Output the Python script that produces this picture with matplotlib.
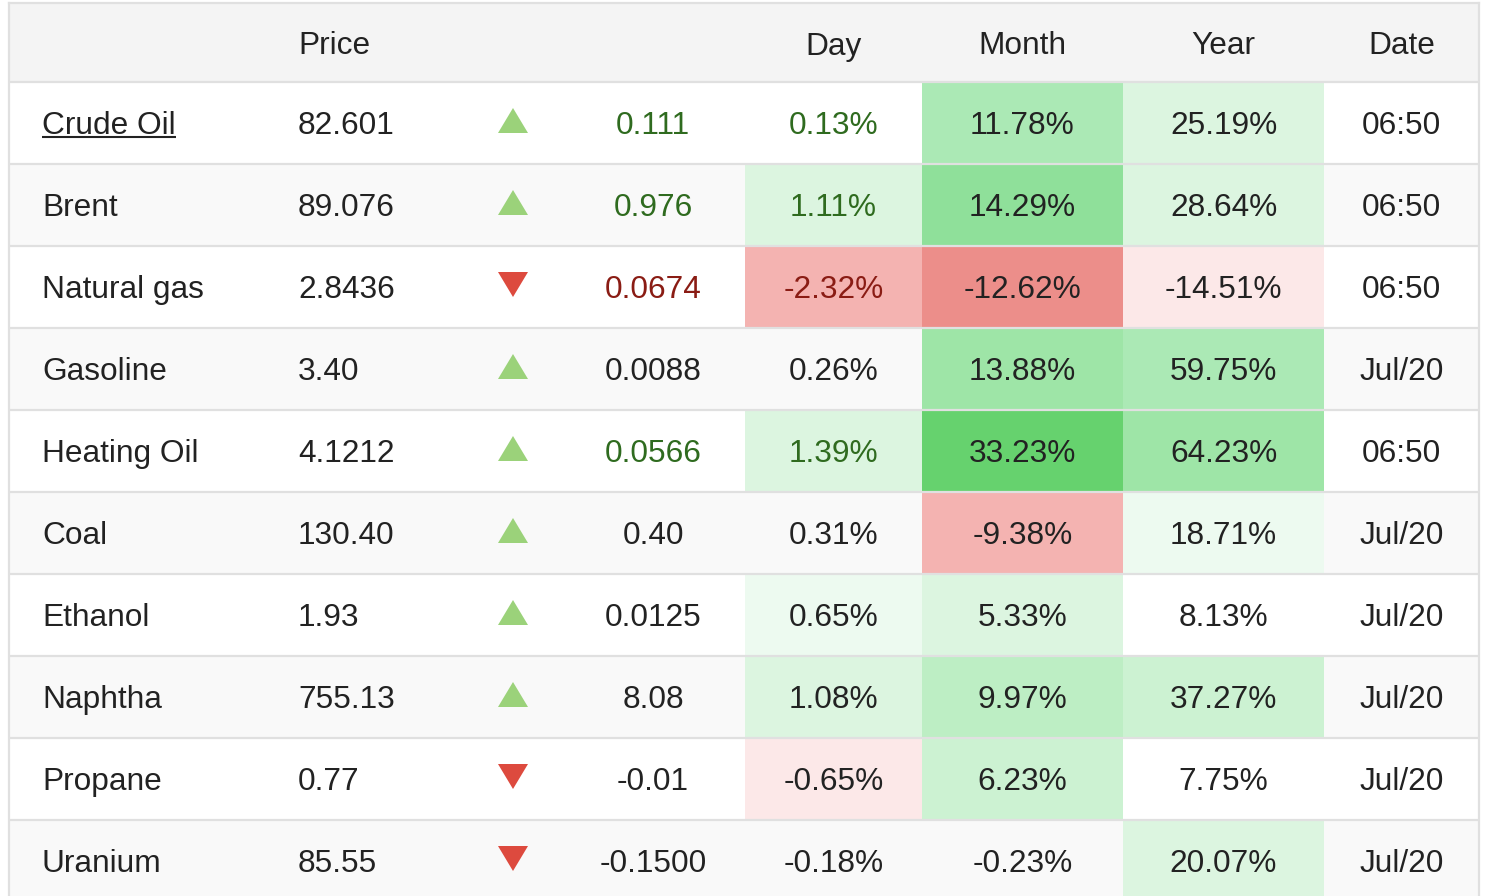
import matplotlib
matplotlib.use("Agg")
import matplotlib.pyplot as plt
from matplotlib.patches import Rectangle, Polygon

plt.rcParams["font.family"] = ["Liberation Sans", "DejaVu Sans"]

names = ["Crude Oil", "Brent", "Natural gas", "Gasoline", "Heating Oil",
         "Coal", "Ethanol", "Naphtha", "Propane", "Uranium"]
prices = ["82.601", "89.076", "2.8436", "3.40", "4.1212",
          "130.40", "1.93", "755.13", "0.77", "85.55"]
changes = ["0.111", "0.976", "0.0674", "0.0088", "0.0566",
           "0.40", "0.0125", "8.08", "-0.01", "-0.1500"]
direction = [1, 1, -1, 1, 1, 1, 1, 1, -1, -1]
day = [0.13, 1.11, -2.32, 0.26, 1.39, 0.31, 0.65, 1.08, -0.65, -0.18]
month = [11.78, 14.29, -12.62, 13.88, 33.23, -9.38, 5.33, 9.97, 6.23, -0.23]
year = [25.19, 28.64, -14.51, 59.75, 64.23, 18.71, 8.13, 37.27, 7.75, 20.07]
dates = ["06:50", "06:50", "06:50", "Jul/20", "06:50",
         "Jul/20", "Jul/20", "Jul/20", "Jul/20", "Jul/20"]
headers = ["Price", "Day", "Month", "Year", "Date"]

# heat shade level per cell (+ green, - red, 0 none)
day_shade = [0, 2, -2, 0, 2, 0, 1, 2, -1, 0]
month_shade = [5, 7, -3, 6, 8, -2, 2, 4, 3, 0]
year_shade = [2, 2, -1, 5, 6, 1, 0, 3, 0, 2]

GREENS = {1: "#edfaf0", 2: "#dcf5e0", 3: "#ccf2d2", 4: "#bdeec4",
          5: "#abe9b5", 6: "#9ee5a7", 7: "#8fe09a", 8: "#66d26e"}
REDS = {1: "#fce8e8", 2: "#f4b3b1", 3: "#ec8e8a"}

TXT = "#222222"
UP_TXT, DOWN_TXT = "#2f6b1f", "#8a1c14"
LINE = "#e0e0e0"
FS = 22.8

W, H = 1492, 896
LEFT, RIGHT, TOP = 8.5, 1479, 3
HEAD_H, ROW_H = 79, 82
NAME_X, PRICE_X, ARROW_X, CHG_X = 42, 298, 513, 653
PCT_COLS = [(745, 922), (922, 1123), (1123, 1324)]
DATE_COL = (1324, 1479)

fig = plt.figure(figsize=(W / 100, H / 100), dpi=100)
ax = fig.add_axes([0, 0, 1, 1])
ax.set_xlim(0, W)
ax.set_ylim(H, 0)
ax.axis("off")

head_bot = TOP + HEAD_H
ax.add_patch(Rectangle((LEFT, TOP), RIGHT - LEFT, HEAD_H, color="#f4f4f4", lw=0))


def text_base(yc):
    return yc + 11


hy = TOP + HEAD_H / 2 + 1
ax.text(PRICE_X, text_base(hy), headers[0], fontsize=FS, color=TXT, ha="left", va="baseline")
for (x0, x1), h in zip(PCT_COLS, headers[1:4]):
    ax.text((x0 + x1) / 2, text_base(hy), h, fontsize=FS, color=TXT, ha="center", va="baseline")
ax.text(sum(DATE_COL) / 2, text_base(hy), headers[4], fontsize=FS, color=TXT, ha="center", va="baseline")

for i in range(len(names)):
    y0 = head_bot + i * ROW_H
    yc = y0 + ROW_H / 2
    stripe = "#f9f9f9" if i % 2 else "#ffffff"
    ax.add_patch(Rectangle((LEFT, y0), RIGHT - LEFT, ROW_H, color=stripe, lw=0))

    live = ":" in dates[i]
    tone = TXT
    if live:
        tone = UP_TXT if direction[i] > 0 else DOWN_TXT

    for (x0, x1), vals, shade in zip(PCT_COLS, [day, month, year],
                                      [day_shade, month_shade, year_shade]):
        lv = shade[i]
        if lv > 0:
            ax.add_patch(Rectangle((x0, y0), x1 - x0, ROW_H, color=GREENS[lv], lw=0))
        elif lv < 0:
            ax.add_patch(Rectangle((x0, y0), x1 - x0, ROW_H, color=REDS[-lv], lw=0))

    ax.text(NAME_X, text_base(yc), names[i], fontsize=FS, color=TXT, ha="left", va="baseline")
    ax.text(PRICE_X, text_base(yc), prices[i], fontsize=FS, color=TXT, ha="left", va="baseline")

    if direction[i] > 0:
        tri = [(ARROW_X - 15, yc + 10), (ARROW_X + 15, yc + 10), (ARROW_X, yc - 15)]
        tc = "#9bd27a"
    else:
        tri = [(ARROW_X - 15, yc - 15), (ARROW_X + 15, yc - 15), (ARROW_X, yc + 10)]
        tc = "#dd4a3e"
    ax.add_patch(Polygon(tri, closed=True, color=tc, lw=0))

    ax.text(CHG_X, text_base(yc), changes[i], fontsize=FS, color=tone, ha="center", va="baseline")
    ax.text(sum(PCT_COLS[0]) / 2, text_base(yc), f"{day[i]:.2f}%", fontsize=FS,
            color=tone, ha="center", va="baseline")
    ax.text(sum(PCT_COLS[1]) / 2, text_base(yc), f"{month[i]:.2f}%", fontsize=FS,
            color=TXT, ha="center", va="baseline")
    ax.text(sum(PCT_COLS[2]) / 2, text_base(yc), f"{year[i]:.2f}%", fontsize=FS,
            color=TXT, ha="center", va="baseline")
    ax.text(sum(DATE_COL) / 2, text_base(yc), dates[i], fontsize=FS, color=TXT,
            ha="center", va="baseline")

# grid lines
for i in range(len(names)):
    y = head_bot + i * ROW_H
    ax.plot([LEFT, RIGHT], [y, y], color=LINE, lw=1.6, solid_capstyle="butt")
ax.plot([LEFT, RIGHT], [TOP, TOP], color=LINE, lw=1.6)
ax.plot([LEFT, LEFT], [TOP, H], color=LINE, lw=1.6)
ax.plot([RIGHT, RIGHT], [TOP, H], color=LINE, lw=1.6)

# underline the linked first name
fig.canvas.draw()
link = [t for t in ax.texts if t.get_text() == names[0]][0]
bb = link.get_window_extent().transformed(ax.transData.inverted())
uy = text_base(head_bot + ROW_H / 2) + 3
ax.plot([bb.x0, bb.x1], [uy, uy], color=TXT, lw=1.5, solid_capstyle="butt")

fig.savefig("out.png", dpi=100)
